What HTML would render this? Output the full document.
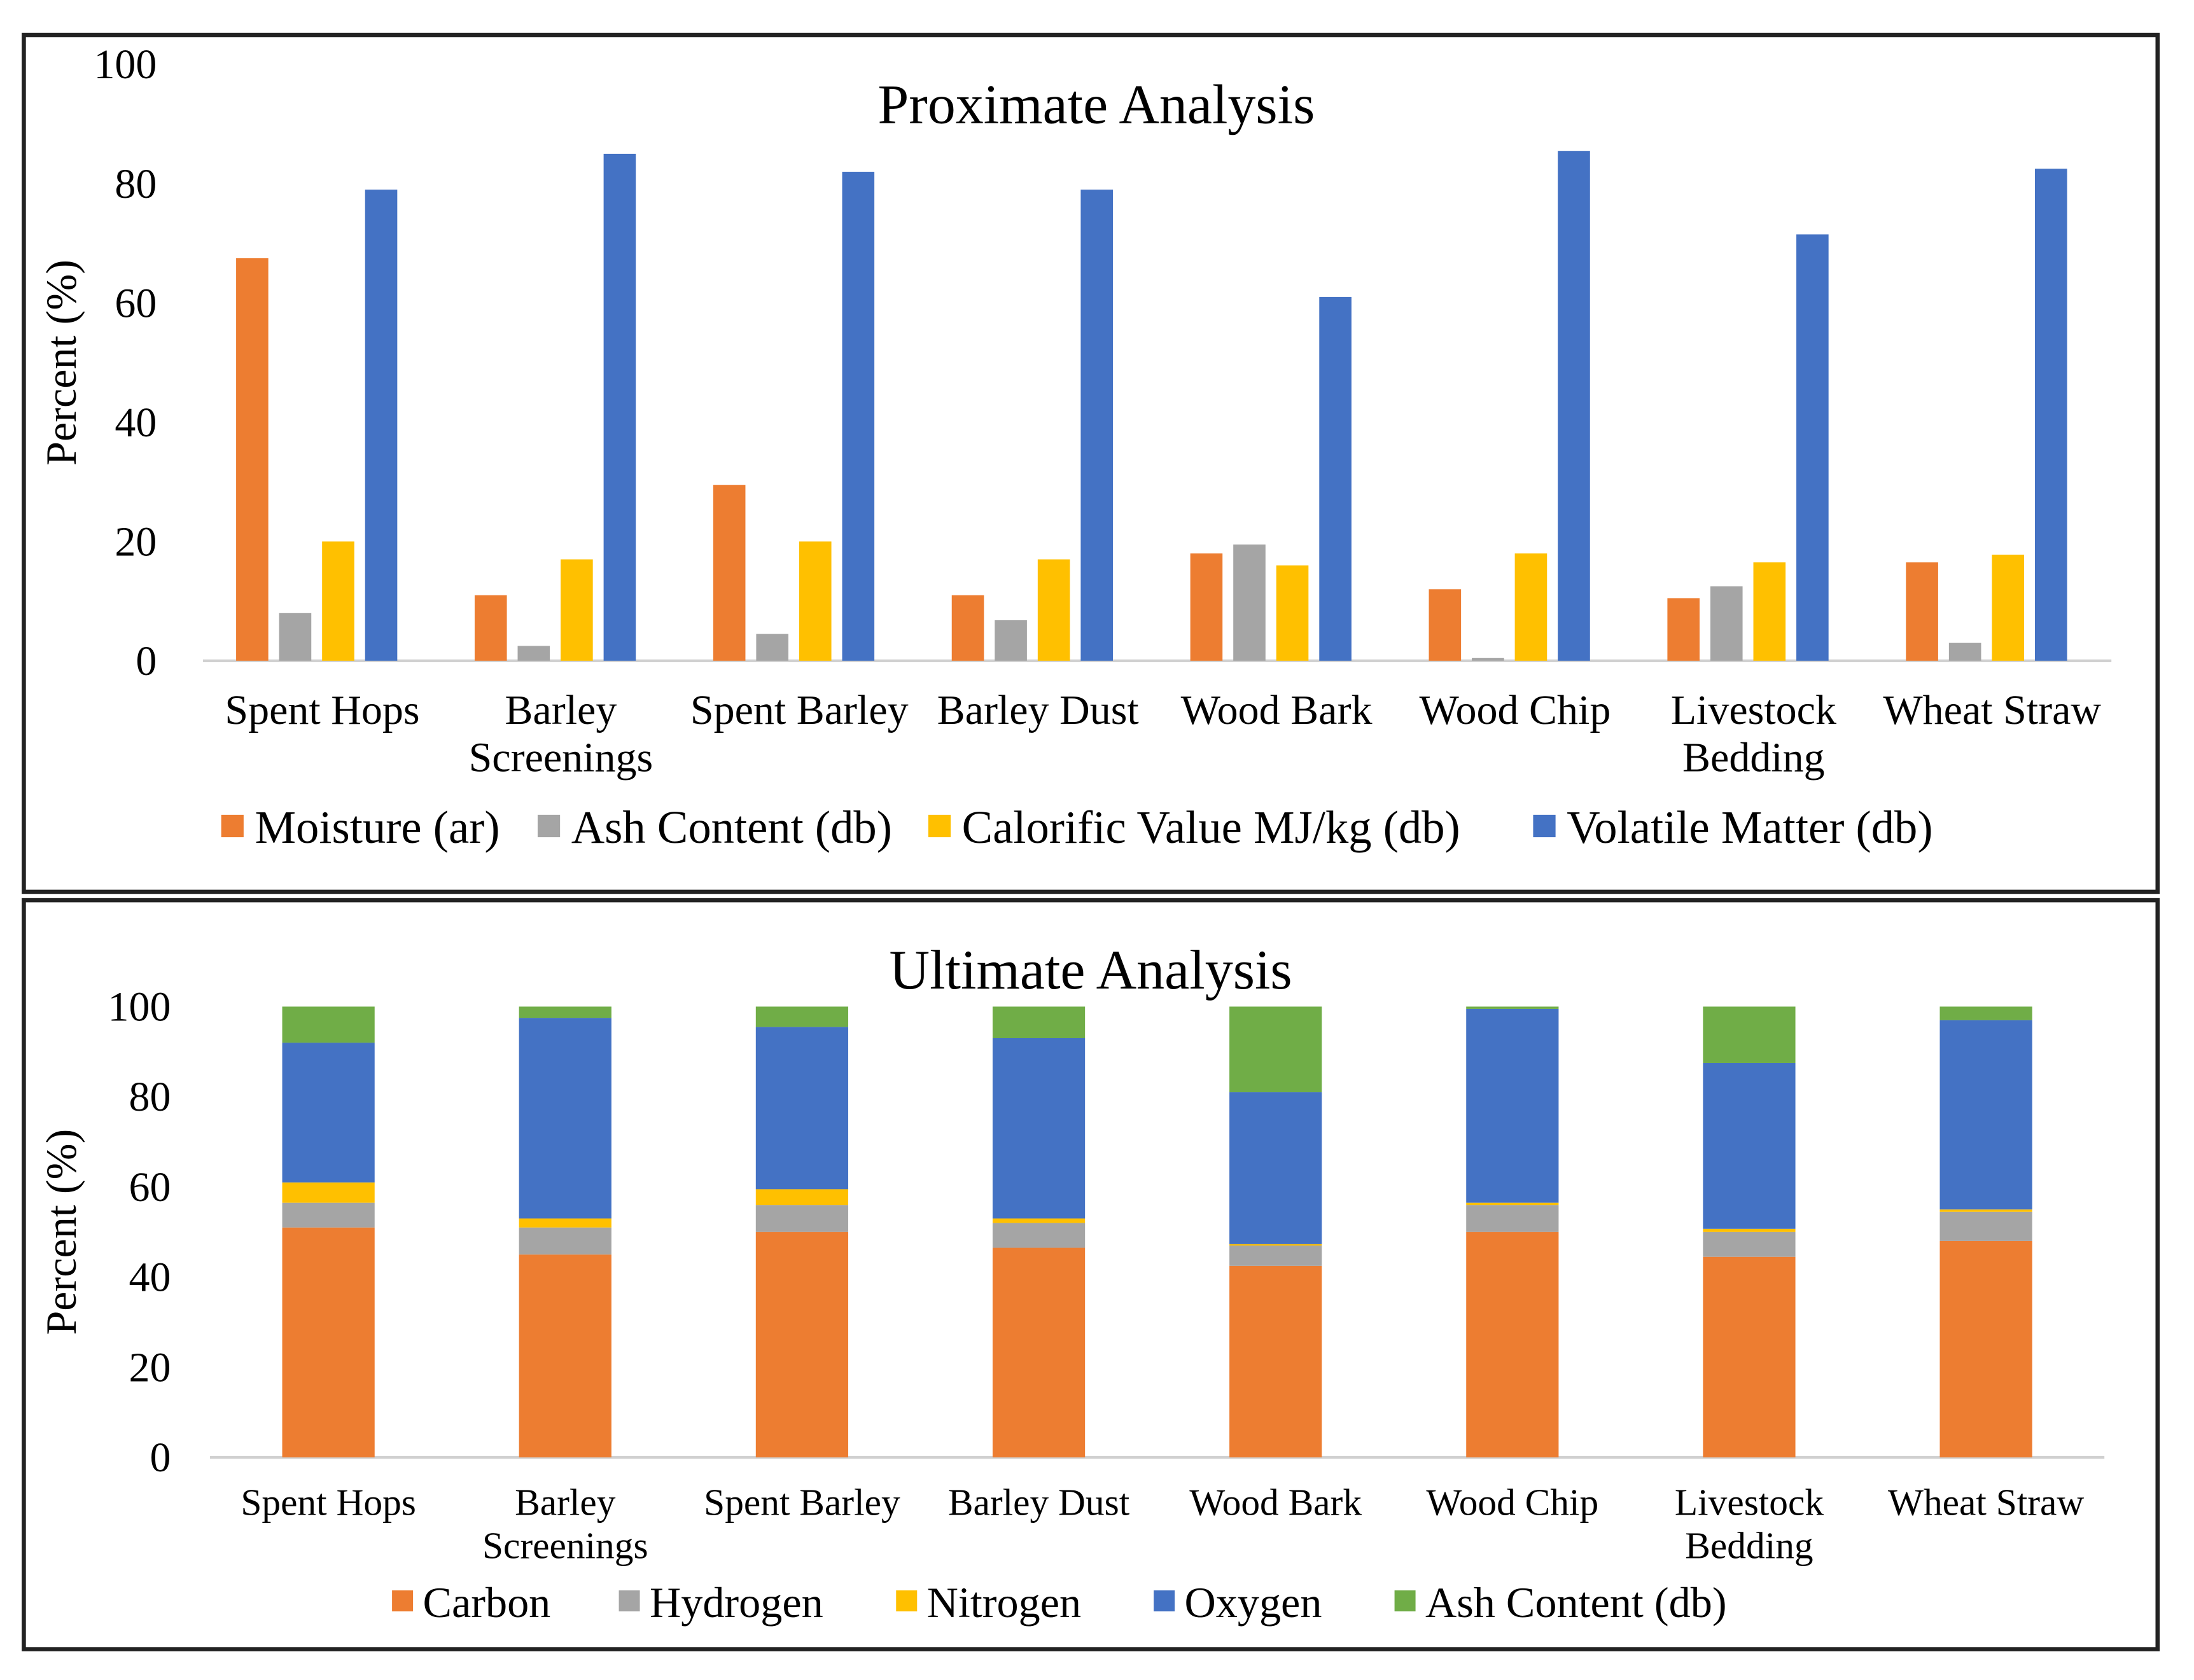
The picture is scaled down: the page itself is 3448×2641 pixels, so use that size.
<!DOCTYPE html>
<html><head><meta charset="utf-8"><style>
html,body{margin:0;padding:0;background:#fff;}
svg{display:block;font-family:"Liberation Serif",serif;}
</style></head><body>
<svg id="fig" width="3448" height="2641" viewBox="0 0 1567 1200" preserveAspectRatio="none" xmlns="http://www.w3.org/2000/svg">
<rect x="0" y="0" width="1567" height="1200" fill="#fff"/>
<rect x="17" y="25" width="1524" height="612" fill="none" stroke="#222" stroke-width="3"/>
<rect x="17" y="643" width="1524" height="535" fill="none" stroke="#222" stroke-width="3"/>
<g id="topg"></g>
<g id="botg"></g>
</svg>
<script>
const categories=["Spent Hops","Barley|Screenings","Spent Barley","Barley Dust","Wood Bark","Wood Chip","Livestock|Bedding","Wheat Straw"];
const yTicks=[0,20,40,60,80,100];
const proxSeries=["Moisture (ar)","Ash Content (db)","Calorific Value MJ/kg  (db)","Volatile Matter (db)"];
const moisture=[67.5,11,29.5,11,18,12,10.5,16.5];
const ashProx=[8,2.5,4.5,6.8,19.5,0.5,12.5,3];
const calorific=[20,17,20,17,16,18,16.5,17.8];
const volatile=[79,85,82,79,61,85.5,71.5,82.5];
const ultSeries=["Carbon","Hydrogen","Nitrogen","Oxygen","Ash Content (db)"];
const carbon=[51,45,50,46.5,42.5,50,44.5,48];
const hydrogen=[5.5,6,6,5.5,4.5,6,5.5,6.5];
const nitrogen=[4.5,2,3.5,1,0.3,0.5,0.7,0.5];
const oxygen=[31,44.5,36,40,33.7,43,36.8,42];
const ashUlt=[8,2.5,4.5,7,19,0.5,12.5,3];
const colors=["#ED7D31","#A5A5A5","#FFC000","#4472C4","#70AD47"];
const NS="http://www.w3.org/2000/svg";
function mk(parent,tag,attrs,text){const e=document.createElementNS(NS,tag);for(const k in attrs)e.setAttribute(k,attrs[k]);if(text!==undefined)e.textContent=text;parent.appendChild(e);return e;}

// ---- Top chart ----
const gTop=document.getElementById('topg');
const tX0=145,tX1=1508,tY0=472,tY1=46;
const ty=v=>tY0-(v/100)*(tY0-tY1);
const tStep=(tX1-tX0)/categories.length;
const tcx=i=>tX0+tStep*(i+0.5);
let t=mk(gTop,'text',{x:783,y:88,'text-anchor':'middle','font-size':40},'Proximate Analysis');


let ax=mk(gTop,'line',{x1:tX0,x2:tX1,y1:tY0,y2:tY0,stroke:'#d0d0d0','stroke-width':2});


yTicks.forEach(v=>{const e=mk(gTop,'text',{x:112,y:ty(v)+10,'text-anchor':'end','font-size':30},String(v));

});
t=mk(gTop,'text',{transform:'translate(54,259) rotate(-90)','text-anchor':'middle','font-size':31},'Percent  (%)');


const proxData=[moisture,ashProx,calorific,volatile];
const bw=23,bstep=30.7;
categories.forEach((c,i)=>{
  proxData.forEach((arr,s)=>{
    const x=tcx(i)+(s-1.5)*bstep-bw/2-4;
    const r=mk(gTop,'rect',{x:x,y:ty(arr[i]),width:bw,height:ty(0)-ty(arr[i]),fill:colors[s]});
    
    
  });
  const lines=c.split('|');
  lines.forEach((l,k)=>{const e=mk(gTop,'text',{x:tcx(i),y:517+k*34,'text-anchor':'middle','font-size':30},l);
  
  });
});
const tLeg=[[158,'Moisture (ar)'],[384,'Ash Content (db)'],[663,'Calorific Value MJ/kg  (db)'],[1095,'Volatile Matter (db)']];
tLeg.forEach((l,s)=>{
  const r=mk(gTop,'rect',{x:l[0],y:582,width:16,height:16,fill:colors[s]});
  
  
  const e=mk(gTop,'text',{x:l[0]+24,y:602,'font-size':33},l[1]);
  
  
});

// ---- Bottom chart ----
const gBot=document.getElementById('botg');
const bX0=150,bX1=1503,bY0=1041,bY1=719;
const by=v=>bY0-(v/100)*(bY0-bY1);
const bStep=(bX1-bX0)/categories.length;
const bcx=i=>bX0+bStep*(i+0.5);
t=mk(gBot,'text',{x:779,y:706,'text-anchor':'middle','font-size':40},'Ultimate Analysis');


ax=mk(gBot,'line',{x1:bX0,x2:bX1,y1:bY0,y2:bY0,stroke:'#d0d0d0','stroke-width':2});


yTicks.forEach(v=>{const e=mk(gBot,'text',{x:122,y:by(v)+10,'text-anchor':'end','font-size':30},String(v));

});
t=mk(gBot,'text',{transform:'translate(54,880) rotate(-90)','text-anchor':'middle','font-size':31},'Percent (%)');


const ultData=[carbon,hydrogen,nitrogen,oxygen,ashUlt];
categories.forEach((c,i)=>{
  let acc=0;
  ultData.forEach((arr,s)=>{
    const v=arr[i];
    const r=mk(gBot,'rect',{x:bcx(i)-33,y:by(acc+v),width:66,height:by(acc)-by(acc+v),fill:colors[s]});
    
    
    acc+=v;
  });
  const lines=c.split('|');
  lines.forEach((l,k)=>{const e=mk(gBot,'text',{x:bcx(i),y:1082+k*31,'text-anchor':'middle','font-size':27},l);
  
  });
});
const bLeg=[[280,'Carbon'],[442,'Hydrogen'],[640,'Nitrogen'],[824,'Oxygen'],[996,'Ash Content (db)']];
bLeg.forEach((l,s)=>{
  const r=mk(gBot,'rect',{x:l[0],y:1136,width:15,height:15,fill:colors[s]});
  
  
  const e=mk(gBot,'text',{x:l[0]+22,y:1155,'font-size':31},l[1]);
  
  
});
</script>
</body></html>
